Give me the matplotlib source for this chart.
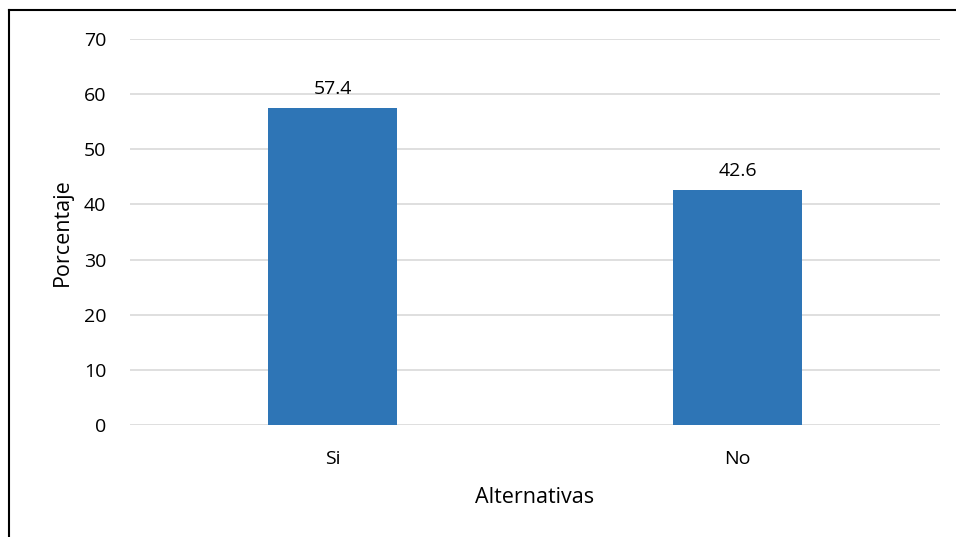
import matplotlib
matplotlib.use("Agg")
import matplotlib.pyplot as plt
from matplotlib.lines import Line2D

categories = ["Si", "No"]
values = [57.4, 42.6]
yticks = [0, 10, 20, 30, 40, 50, 60, 70]

plt.rcParams['font.family'] = ['Open Sans', 'DejaVu Sans']

fig = plt.figure(figsize=(9.56, 5.37), dpi=100)
ax = fig.add_axes([130/956, 1-425/537, 810/956, 386/537])
x = list(range(len(categories)))
bars = ax.bar(x, values, width=0.32, color="#2e75b6", zorder=3)
for xi, v in zip(x, values):
    ax.text(xi, v + 1.9, f"{v}", ha="center", va="bottom", fontsize=14, color="#000000")
ax.set_xlim(-0.5, 1.5)
ax.set_ylim(0, 70)
ax.set_yticks(yticks)
ax.set_xticks(x)
ax.set_xticklabels(categories)
ax.tick_params(axis='both', length=0, labelsize=14, colors="#000000")
ax.tick_params(axis='y', pad=17)
ax.tick_params(axis='x', pad=18)
ax.grid(axis='y', color="#d9d9d9", linewidth=1.2, zorder=0)
for s in ax.spines.values():
    s.set_visible(False)
ax.set_ylabel("Porcentaje", fontsize=15.5, labelpad=8)
ax.set_xlabel("Alternativas", fontsize=15.5, labelpad=14)

# outer frame lines (left and top)
fig.add_artist(Line2D([9/956, 9/956], [0, 1-10/537], transform=fig.transFigure, color="black", linewidth=1.5))
fig.add_artist(Line2D([9/956, 1], [1-10/537, 1-10/537], transform=fig.transFigure, color="black", linewidth=1.5))

fig.savefig("out.png", dpi=100)
